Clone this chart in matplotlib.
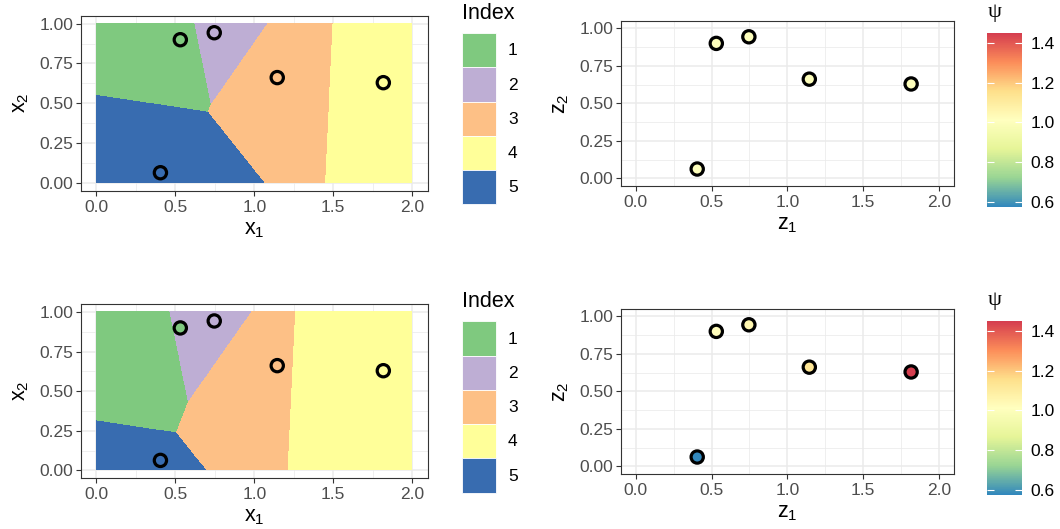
import numpy as np
import matplotlib
matplotlib.use("Agg")
import matplotlib.pyplot as plt
from matplotlib.colors import ListedColormap, LinearSegmentedColormap, Normalize
from matplotlib.patches import Patch
from matplotlib.ticker import FormatStrFormatter, MultipleLocator

plt.rcParams['font.family'] = ['Liberation Sans', 'DejaVu Sans']
plt.rcParams['mathtext.default'] = 'regular'

# points (same in every panel)
z1 = [0.405, 0.531, 0.746, 1.145, 1.817]
z2 = [0.063, 0.899, 0.943, 0.661, 0.629]
index = [5, 1, 2, 3, 4]

# power-diagram weights for the cells (top: plain Voronoi)
w_top = [0.0, 0.0, 0.0, 0.0, 0.0]
w_bottom = [-0.548, -0.148, -0.080, 0.0, 0.319]

# psi values of the points
psi_top = [1.0, 1.0, 1.0, 1.0, 1.0]
psi_bottom = [0.578, 1.02, 1.05, 1.13, 1.447]
psi_lim = (0.578, 1.447)

index_cols = ['#7FC97F', '#BEAED4', '#FDC086', '#FFFF99', '#386CB0']
spectral = ['#3288BD', '#99D594', '#E6F598', '#FFFFBF', '#FEE08B', '#FC8D59', '#D53E4F']
psi_cmap = LinearSegmentedColormap.from_list('spec', spectral)
norm = Normalize(*psi_lim)

TICK = 12.5
TITLE = 15.5

W, H = 1060, 529
fig = plt.figure(figsize=(W / 100, H / 100), dpi=100)


def px(l, r, t, b):
    return [l / W, 1 - b / H, (r - l) / W, (b - t) / H]


def style(ax, xl, yl):
    ax.set_xlim(-0.1, 2.1)
    ax.set_ylim(-0.05, 1.05)
    ax.xaxis.set_major_locator(MultipleLocator(0.5))
    ax.xaxis.set_minor_locator(MultipleLocator(0.25))
    ax.yaxis.set_major_locator(MultipleLocator(0.25))
    ax.yaxis.set_minor_locator(MultipleLocator(0.125))
    ax.xaxis.set_major_formatter(FormatStrFormatter('%.1f'))
    ax.yaxis.set_major_formatter(FormatStrFormatter('%.2f'))
    ax.grid(which='major', color='#EBEBEB', lw=1.1)
    ax.grid(which='minor', color='#EBEBEB', lw=0.55)
    ax.set_axisbelow(True)
    ax.tick_params(which='major', length=3.5, width=0.8, color='#333333',
                   labelsize=TICK, labelcolor='#4D4D4D')
    ax.tick_params(axis='x', which='major', pad=3)
    ax.tick_params(axis='y', which='major', pad=2)
    ax.tick_params(which='minor', length=0)
    for s in ax.spines.values():
        s.set_color('#333333')
        s.set_linewidth(0.8)
    ax.set_xlabel(xl, fontsize=TITLE, labelpad=3)
    ax.set_ylabel(yl, fontsize=TITLE, labelpad=6)


gx = np.linspace(0, 2, 1601)
gy = np.linspace(0, 1, 801)
GX, GY = np.meshgrid(gx, gy)
pts_x = np.array(z1)
pts_y = np.array(z2)
idx = np.array(index)

rows = [(15.7, 190.7, 20.7, 186, w_top, psi_top),
        (304, 478.3, 308.7, 474, w_bottom, psi_bottom)]

for t_l, b_l, t_r, b_r, w, psi in rows:
    # left: cells
    ax = fig.add_axes(px(80.7, 428, t_l, b_l))
    d = (GX[..., None] - pts_x) ** 2 + (GY[..., None] - pts_y) ** 2 - np.array(w)
    cell = idx[np.argmin(d, axis=2)]
    ax.imshow(cell, origin='lower', extent=[0, 2, 0, 1], aspect='auto',
              cmap=ListedColormap(index_cols), vmin=0.5, vmax=5.5,
              interpolation='nearest', zorder=1)
    ax.scatter(z1, z2, c=[index_cols[i - 1] for i in index], s=78,
               edgecolors='black', linewidths=2.3, zorder=3)
    style(ax, 'x$_1$', 'x$_2$')
    handles = [Patch(facecolor=c, edgecolor='white', lw=0.6, label=str(i + 1))
               for i, c in enumerate(index_cols)]
    fig.legend(handles=handles, loc='upper left',
               bbox_to_anchor=(462 / W, 1 - (t_l + 17.3) / H), frameon=False,
               fontsize=TICK, handlelength=1.95, handleheight=2.66,
               labelspacing=0, handletextpad=0.7, borderpad=0, borderaxespad=0)
    fig.text(462 / W, 1 - (t_l - 2.5) / H, 'Index', fontsize=TITLE,
             ha='left', va='center')

    # right: psi points
    ax2 = fig.add_axes(px(620.7, 954, t_r, b_r))
    sc = ax2.scatter(z1, z2, c=psi, cmap=psi_cmap, norm=norm, s=78,
                     edgecolors='black', linewidths=2.3, zorder=3)
    style(ax2, 'z$_1$', 'z$_2$')
    cax = fig.add_axes(px(987, 1022, t_r + 12.6, t_r + 186))
    cb = fig.colorbar(sc, cax=cax, ticks=[0.6, 0.8, 1.0, 1.2, 1.4])
    cb.outline.set_visible(False)
    cb.ax.yaxis.set_major_formatter(FormatStrFormatter('%.1f'))
    cax.tick_params(direction='in', left=True, right=True, color='white',
                    length=5, width=0.8, labelsize=TICK, labelcolor='#000000', pad=6)
    fig.text(988 / W, 1 - (t_r - 8) / H, 'ψ', family=['Liberation Serif', 'DejaVu Serif'],
             fontsize=16, ha='left', va='center')

fig.savefig('out.png', dpi=100)
